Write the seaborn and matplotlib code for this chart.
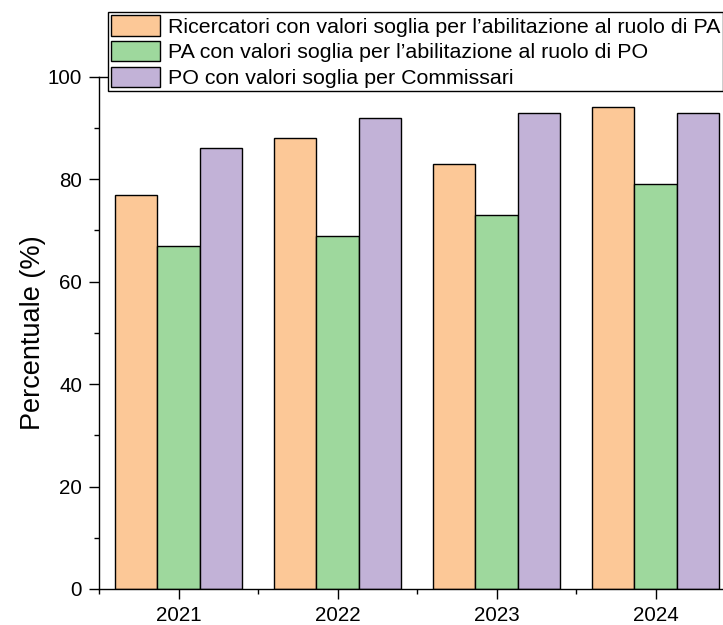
import matplotlib
matplotlib.use("Agg")
import matplotlib.pyplot as plt
from matplotlib.ticker import MultipleLocator, FixedLocator
import seaborn as sns
import pandas as pd

years = ["2021", "2022", "2023", "2024"]
series = [
    "Ricercatori con valori soglia per l\u2019abilitazione al ruolo di PA",
    "PA con valori soglia per l\u2019abilitazione al ruolo di PO",
    "PO con valori soglia per Commissari",
]
ricercatori = [77, 88, 83, 94]
pa = [67, 69, 73, 79]
po = [86, 92, 93, 93]
colors = ["#FCC897", "#9ED89D", "#C2B2D7"]

rows = []
for s, vals in zip(series, [ricercatori, pa, po]):
    for y, v in zip(years, vals):
        rows.append({"Anno": y, "Valore": v, "Serie": s})
df = pd.DataFrame(rows)

sns.set_theme(style="ticks")
plt.rcParams["font.family"] = ["Liberation Sans", "DejaVu Sans"]

W, H = 723, 625
fig = plt.figure(figsize=(W / 100, H / 100), dpi=100)
left, right, bottom, top = 99, 735, 589, 76.7
ax = fig.add_axes([left / W, (H - bottom) / H, (right - left) / W, (bottom - top) / H])

sns.barplot(data=df, x="Anno", y="Valore", hue="Serie", order=years, hue_order=series,
            palette=colors, saturation=1, width=0.8, edgecolor="black", linewidth=1.0,
            ax=ax)

ax.set_xlim(-0.5, 3.5)
ax.set_ylim(0, 100)
ax.yaxis.set_major_locator(MultipleLocator(20))
ax.yaxis.set_minor_locator(MultipleLocator(10))
ax.xaxis.set_minor_locator(FixedLocator([-0.5, 0.5, 1.5, 2.5, 3.5]))
ax.tick_params(axis="both", which="major", direction="out", length=7.2, width=1.0,
               labelsize=14.8, pad=5, color="black", labelcolor="black")
ax.tick_params(axis="both", which="minor", direction="out", length=3.6, width=1.0, color="black")
ax.tick_params(axis="x", which="both", top=False)
ax.tick_params(axis="y", which="both", right=False)
for side in ["left", "bottom", "top", "right"]:
    ax.spines[side].set_linewidth(1.0)
    ax.spines[side].set_color("black")

ax.set_xlabel("")
ax.set_ylabel("Percentuale (%)", fontsize=19.5, labelpad=1, color="black")

handles, labels = ax.get_legend_handles_labels()
ax.get_legend().remove()
leg = fig.legend(handles, labels, loc="upper left",
                 bbox_to_anchor=(108.3 / W, 1 - 12.3 / H),
                 frameon=True, fancybox=False, edgecolor="black", framealpha=1,
                 fontsize=15.4, handlelength=2.3, handleheight=1.1, labelspacing=0.2,
                 handletextpad=0.34, borderpad=0.13, borderaxespad=0)
leg.get_frame().set_linewidth(1.0)
for t in leg.get_texts():
    t.set_color("black")

fig.savefig("out.png", dpi=100)
